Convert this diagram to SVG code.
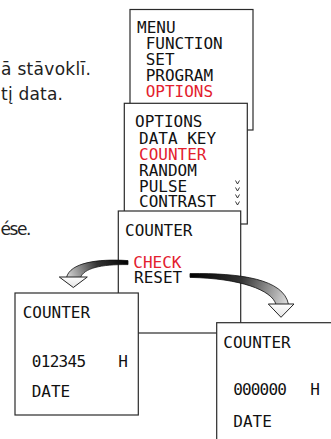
<svg xmlns="http://www.w3.org/2000/svg" width="331" height="439" viewBox="0 0 331 439">
<defs>
<style>
.box{fill:#fff;stroke:#2a2a2a;stroke-width:1.2}
.lcd{font-family:"DejaVu Sans Mono","Liberation Mono",monospace;font-size:16px;fill:#111}
.red{fill:#e3202e}
.body{font-family:"DejaVu Sans","Liberation Sans",sans-serif;font-size:17px;fill:#222}
.chev{fill:none;stroke:#222;stroke-width:0.9}
.shaft{stroke:#111;stroke-width:0.8}
.head{fill:url(#hg);stroke:#222;stroke-width:1}
</style>
<linearGradient id="gl" gradientUnits="userSpaceOnUse" x1="128" y1="258" x2="70" y2="280">
<stop offset="0" stop-color="#000"/>
<stop offset="0.5" stop-color="#333"/>
<stop offset="1" stop-color="#cfcfcf"/>
</linearGradient>
<linearGradient id="gr" gradientUnits="userSpaceOnUse" x1="190" y1="272" x2="285" y2="306">
<stop offset="0" stop-color="#000"/>
<stop offset="0.5" stop-color="#333"/>
<stop offset="1" stop-color="#d8d8d8"/>
</linearGradient>
<linearGradient id="hg" x1="0" y1="0" x2="0" y2="1">
<stop offset="0" stop-color="#fff"/>
<stop offset="1" stop-color="#e4e4e4"/>
</linearGradient>
</defs>

<g id="caption">
<text class="body" x="1" y="75" textLength="90" lengthAdjust="spacing">ā stāvoklī.</text>
<text class="body" x="1" y="100" textLength="62" lengthAdjust="spacing">tį data.</text>
<text class="body" x="0.5" y="235" textLength="31" lengthAdjust="spacing">ése.</text>
</g>

<g id="menu">
<rect class="box" x="130" y="9.5" width="123" height="120.5"/>
<text class="lcd" x="137" y="33">MENU</text>
<text class="lcd" x="145.7" y="49">FUNCTION</text>
<text class="lcd" x="145.7" y="65">SET</text>
<text class="lcd" x="145.7" y="80.7">PROGRAM</text>
<text class="lcd red" x="145.7" y="96.5">OPTIONS</text>
</g>

<g id="options">
<rect class="box" x="124.3" y="103.3" width="123" height="120.7"/>
<text class="lcd" x="135" y="127">OPTIONS</text>
<text class="lcd" x="139" y="143.5">DATA KEY</text>
<text class="lcd red" x="139" y="159.7">COUNTER</text>
<text class="lcd" x="139" y="175.7">RANDOM</text>
<text class="lcd" x="139" y="191.5">PULSE</text>
<text class="lcd" x="139" y="207">CONTRAST</text>
<path class="chev" d="M235.5,180.5 L237.5,184 L239.5,180.5 M235.5,187.5 L237.5,191 L239.5,187.5 M235.5,194.5 L237.5,198 L239.5,194.5 M235.5,201.5 L237.5,205 L239.5,201.5"/>
</g>

<g id="counter">
<rect class="box" x="118.3" y="211" width="122.4" height="122"/>
<text class="lcd" x="125" y="235.7">COUNTER</text>
<text class="lcd red" x="133.3" y="267.5">CHECK</text>
<text class="lcd" x="134" y="283.3">RESET</text>
</g>

<g id="check">
<rect class="box" x="15" y="293" width="123.3" height="122"/>
<text class="lcd" x="22.7" y="318.3">COUNTER</text>
<text class="lcd" y="366.7"><tspan x="31.7" textLength="54.5" lengthAdjust="spacing">012345</tspan><tspan x="108.5"> H</tspan></text>
<text class="lcd" x="31.7" y="396.7">DATE</text>
</g>

<g id="reset">
<rect class="box" x="216.7" y="322.7" width="130" height="130"/>
<text class="lcd" x="223.3" y="347.7">COUNTER</text>
<text class="lcd" y="395"><tspan x="233.3" textLength="53.5" lengthAdjust="spacing">000000</tspan><tspan x="300.5"> H</tspan></text>
<text class="lcd" x="233.3" y="426.7">DATE</text>
</g>

<g id="connectors">
<path class="shaft" fill="url(#gl)" d="M128,260.6 C97,258.5 70,263 66.5,277.5 L80.5,277.5 C84,268.5 100,264.2 128,264.6 Z"/>
<path class="head" d="M59.3,277 L87.3,277 L73.3,287.5 Z"/>
<path class="shaft" fill="url(#gr)" d="M190,273.6 C240,273 284,279 288.5,304.5 L276,304.5 C272,290 240,278.3 190,277.4 Z"/>
<path class="head" d="M268.3,304 L294,304 L281,317.3 Z"/>
</g>
</svg>
